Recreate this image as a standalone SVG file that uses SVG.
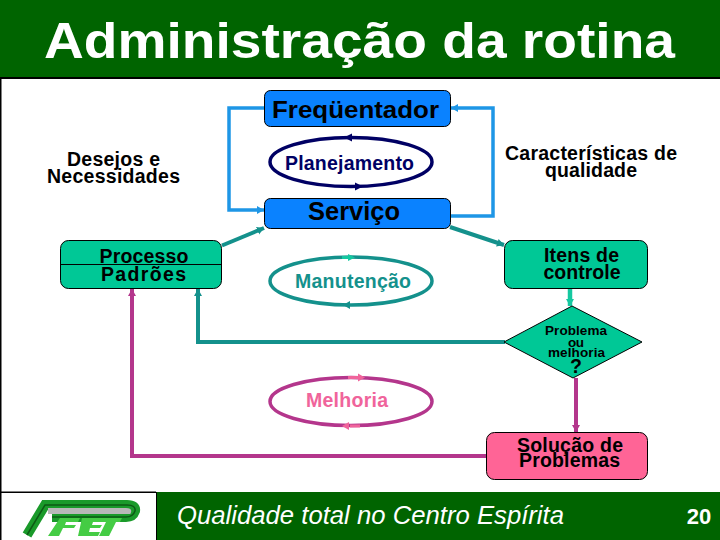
<svg xmlns="http://www.w3.org/2000/svg" width="720" height="540" viewBox="0 0 720 540">
<style>
text{font-family:"Liberation Sans",Arial,sans-serif;text-anchor:middle;font-weight:bold}
.b{fill:#000;font-size:19.5px}
.s{fill:#000;font-size:13.5px}
.lb{fill:none;stroke:#1e96e6;stroke-width:3.5}
.te{fill:none;stroke:#14918c;stroke-width:4}
.ma{fill:none;stroke:#b4368c;stroke-width:4}
.box{stroke:#000;stroke-width:1}
</style>
<defs>
<marker id="aLb" markerUnits="userSpaceOnUse" markerWidth="8" markerHeight="10" refX="7" refY="5" orient="auto"><path d="M0 1L7 5L0 9Z" fill="#1e96e6"/></marker>
<marker id="aTe" markerUnits="userSpaceOnUse" markerWidth="8" markerHeight="10" refX="7" refY="5" orient="auto"><path d="M0 1L7 5L0 9Z" fill="#14918c"/></marker>
<marker id="aMa" markerUnits="userSpaceOnUse" markerWidth="8" markerHeight="10" refX="7" refY="5" orient="auto"><path d="M0 1L7 5L0 9Z" fill="#b4368c"/></marker>
<marker id="aGr" markerUnits="userSpaceOnUse" markerWidth="8" markerHeight="10" refX="7" refY="5" orient="auto"><path d="M0 1L7 5L0 9Z" fill="#14c8a0"/></marker>
</defs>
<rect width="720" height="540" fill="#fff"/>
<rect x="0" y="78" width="1.5" height="414" fill="#000"/>
<g id="title">
<rect width="720" height="78" fill="#006400"/>
<rect y="77" width="720" height="2" fill="#000"/>
<text x="359.500" y="58" font-size="50" fill="#fff" textLength="631" lengthAdjust="spacingAndGlyphs">Administração da rotina</text>
</g>
<g id="connectors">
<path class="lb" d="M264 108H229V210H264" marker-end="url(#aLb)"/>
<path class="lb" d="M451 216H493V108H451" marker-end="url(#aLb)"/>
<path class="te" d="M222 245.500L264 228" marker-end="url(#aTe)"/>
<path class="te" d="M450 227L504 245" marker-end="url(#aTe)"/>
<path d="M570 288V306" fill="none" stroke="#14c8a0" stroke-width="4.500" marker-end="url(#aGr)"/>
<path class="te" d="M505 342H198V289" marker-end="url(#aTe)"/>
<path d="M576 378V432" fill="none" stroke="#b4368c" stroke-width="4" marker-end="url(#aMa)"/>
<path class="ma" d="M487 456H132V289" marker-end="url(#aMa)"/>
</g>
<g id="freq"><rect class="box" x="264.500" y="90.500" width="186" height="36" rx="6" fill="#0a82ff"/><text x="355.500" y="118" font-size="24" fill="#000" textLength="167" lengthAdjust="spacingAndGlyphs">Freqüentador</text></g>
<g id="desejos"><text class="b" x="113.500" y="166" textLength="93" lengthAdjust="spacing">Desejos e</text><text class="b" x="113.500" y="183" textLength="133" lengthAdjust="spacing">Necessidades</text></g>
<g id="planejamento"><ellipse cx="351" cy="162" rx="81" ry="24.500" fill="#fff" stroke="#000064" stroke-width="3.500"/><path d="M344 137.500l8-4v8zM363 186.500l-8-4v8z" fill="#000064"/><text x="349.500" y="170" font-size="19.500" fill="#000064" textLength="129" lengthAdjust="spacing">Planejamento</text></g>
<g id="caract"><text class="b" x="591" y="160" textLength="172" lengthAdjust="spacing">Características de</text><text class="b" x="591" y="177" textLength="92" lengthAdjust="spacing">qualidade</text></g>
<g id="servico"><rect class="box" x="264.500" y="198.500" width="186" height="30" rx="6" fill="#0a82ff"/><text x="354" y="220" font-size="25" fill="#000" textLength="92" lengthAdjust="spacingAndGlyphs">Serviço</text></g>
<g id="processo"><rect class="box" x="60.500" y="240.500" width="161" height="48" rx="8" fill="#00c896"/><path d="M61 264.500H221" stroke="#000" stroke-width="1"/><text class="b" x="144" y="263" textLength="89" lengthAdjust="spacing">Processo</text><text class="b" x="143.500" y="281" textLength="85" lengthAdjust="spacing">Padrões</text></g>
<g id="manutencao"><ellipse cx="351" cy="281" rx="81" ry="24" fill="#fff" stroke="#14918c" stroke-width="3.500"/><path d="M342 256h8v3h-8zM348 254l7 3.500-7 3.500z" fill="#14c8a0"/><path d="M343 305l7-4v8z" fill="#14918c"/><text x="353" y="288" font-size="19.500" fill="#14918c" textLength="116" lengthAdjust="spacing">Manutenção</text></g>
<g id="itens"><rect class="box" x="504.500" y="240.500" width="143" height="48" rx="8" fill="#00c896"/><text class="b" x="581.500" y="262" textLength="75" lengthAdjust="spacing">Itens de</text><text class="b" x="582" y="279" textLength="77" lengthAdjust="spacing">controle</text></g>
<g id="decisao"><path class="box" d="M504 342L572 306L642 342L573 378Z" fill="#00c896"/><text class="s" x="576" y="335" textLength="62" lengthAdjust="spacing">Problema</text><text class="s" x="576" y="347" textLength="16" lengthAdjust="spacing">ou</text><text class="s" x="576.500" y="357" textLength="57" lengthAdjust="spacing">melhoria</text><text class="b" x="576" y="373">?</text></g>
<g id="melhoria"><ellipse cx="351" cy="401.500" rx="81" ry="24" fill="#fff" stroke="#b4368c" stroke-width="3.500"/><path d="M348 376h10v3h-10zM358 373.500l7 4-7 4zM350 424.500h10v3h-10zM349 422l-7 4 7 4z" fill="#f0649b"/><text x="347" y="407" font-size="19.500" fill="#f0649b" textLength="82" lengthAdjust="spacing">Melhoria</text></g>
<g id="solucao"><rect class="box" x="486.500" y="432.500" width="161" height="47" rx="8" fill="#ff6496"/><text class="b" x="570" y="452" textLength="106" lengthAdjust="spacing">Solução de</text><text class="b" x="569.500" y="467" textLength="101" lengthAdjust="spacing">Problemas</text></g>
<g id="footer">
<rect y="492" width="720" height="48" fill="#006400"/>
<rect y="492" width="156" height="48" fill="#fff"/>
<rect y="491.500" width="156" height="1.500" fill="#000"/>
<rect y="492" width="1.500" height="48" fill="#000"/>
<rect x="156" y="492" width="1" height="48" fill="#000"/>
<path d="M27 535L45 505H127Q136 505 135 511Q133 517 126 517H52" fill="none" stroke="#1a9a2a" stroke-width="10"/>
<path d="M27 535L45 505H127Q136 505 135 511Q133 517 126 517H52" fill="none" stroke="#0c5a14" stroke-width="1.500"/>
<path d="M48 510H126Q130 510 129 512H48" fill="none" stroke="#b8b8b8" stroke-width="4"/>
<path d="M60 518H80L78 522H66L65 525H76L74 528H63L59 536H48ZM82 518H106L104 522H93L92 525H102L100 528H90L89 532H100L98 536H78ZM104 518H122L120 522H116L109 536H99L106 522H102Z" fill="#44cc44"/>
<text x="370.500" y="524" font-size="25.500" font-style="italic" style="font-weight:normal" fill="#fff" textLength="387" lengthAdjust="spacingAndGlyphs">Qualidade total no Centro Espírita</text>
<text x="699" y="524" font-size="22" fill="#fff">20</text>
</g>
</svg>
